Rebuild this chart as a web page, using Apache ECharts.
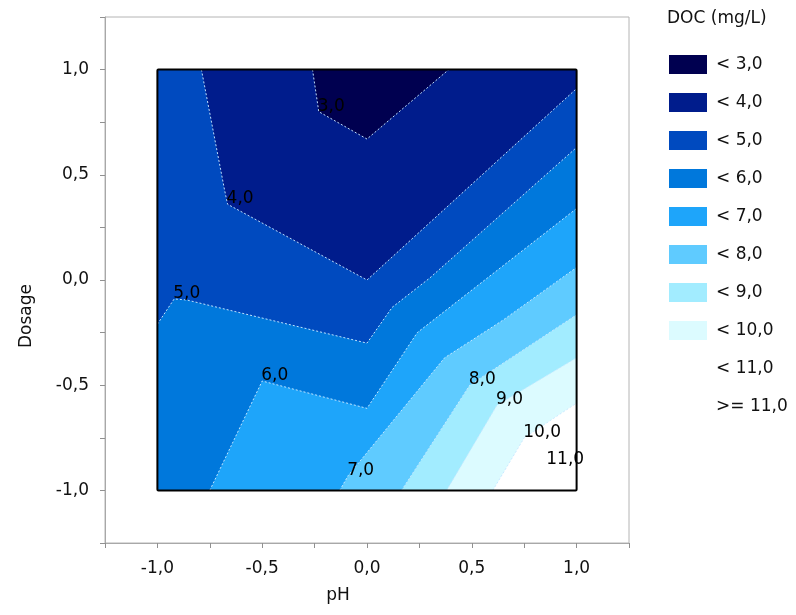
<!DOCTYPE html>
<html>
<head>
<meta charset="utf-8">
<script src="https://cdn.jsdelivr.net/npm/echarts@6/dist/echarts.min.js"></script>
<style>html,body{margin:0;padding:0;background:#fff;}#main{width:796px;height:615px;}</style>
</head>
<body>
<div id="main"></div>
<script>
// ---- data (pH, Dosage) ----
const levelValues = [3, 4, 5, 6, 7, 8, 9, 10, 11];
const legendNames = ['< 3,0', '< 4,0', '< 5,0', '< 6,0', '< 7,0', '< 8,0', '< 9,0', '< 10,0', '< 11,0', '>= 11,0'];
const contourLabels = ['3,0', '4,0', '5,0', '6,0', '7,0', '8,0', '9,0', '10,0', '11,0'];
const contour3 = [[-0.26, 1.0], [-0.23, 0.80], [0.0, 0.67], [0.39, 1.0]];
const contour4 = [[-0.79, 1.0], [-0.68, 0.43], [-0.665, 0.36], [0.0, 0.0], [1.0, 0.91]];
const contour5 = [[-1.0, -0.21], [-0.92, -0.09], [-0.86, -0.095], [0.0, -0.30], [0.12, -0.13], [0.30, 0.01], [1.0, 0.63]];
const contour6 = [[-0.75, -1.0], [-0.50, -0.48], [0.0, -0.61], [0.24, -0.25], [1.0, 0.34]];
const contour7 = [[-0.13, -1.0], [-0.09, -0.93], [0.37, -0.37], [0.65, -0.19], [1.0, 0.06]];
const contour8 = [[0.165, -1.0], [0.49, -0.50], [1.0, -0.165]];
const contour9 = [[0.38, -1.0], [0.62, -0.595], [1.0, -0.37]];
const contour10 = [[0.60, -1.0], [0.75, -0.75], [1.0, -0.585]];
const contour11 = [[0.82, -1.0], [0.86, -0.88], [1.0, -0.76]];
const labelVertex = [1, 2, 1, 1, 1, 1, 1, 1, 1];
const designMin = -1, designMax = 1;

// ---- styles ----
const levelColors = ['#000050', '#001c8c', '#004abf', '#0078dc', '#1ea5fa', '#5fcbff', '#a2ecff', '#dcfbff', '#ffffff', '#ffffff'];
const FONT = 'DejaVu Sans';
const TXT = '#111';

const contours = [contour3, contour4, contour5, contour6, contour7, contour8, contour9, contour10, contour11];

// perimeter parameter (counter-clockwise on screen, starting at bottom-right corner)
function perim(p) {
  const [x, y] = p, a = designMin, b = designMax, s = b - a;
  if (Math.abs(x - b) < 1e-9) return (y - a);
  if (Math.abs(y - b) < 1e-9) return s + (b - x);
  if (Math.abs(x - a) < 1e-9) return 2 * s + (b - y);
  return 3 * s + (x - a);
}
function lowSidePolygon(line) {
  const s = designMax - designMin;
  const corners = [[designMax, designMax], [designMin, designMax], [designMin, designMin], [designMax, designMin]];
  const cornerT = [s, 2 * s, 3 * s, 4 * s];
  const te = perim(line[line.length - 1]);
  let ts = perim(line[0]);
  if (ts < te) ts += 4 * s;
  const pts = line.slice();
  for (let k = 0; k < 8; k++) {
    const t = cornerT[k % 4] + (k >= 4 ? 4 * s : 0);
    if (t > te && t < ts) pts.push(corners[k % 4]);
  }
  return pts;
}
const fullBox = [[designMin, designMin], [designMax, designMin], [designMax, designMax], [designMin, designMax]];

const series = [];
legendNames.forEach((name, i) => {
  const poly = i < contours.length ? lowSidePolygon(contours[i]) : fullBox;
  series.push({
    type: 'custom', name: name, coordinateSystem: 'cartesian2d',
    z: 20 - i, silent: true,
    itemStyle: { color: levelColors[i] },
    data: [[0, 0]],
    renderItem: function (params, api) {
      return { type: 'polygon', shape: { points: poly.map(p => api.coord(p)) },
        style: { fill: levelColors[i] } };
    }
  });
});

// contour lines with labels
series.push({
  type: 'custom', coordinateSystem: 'cartesian2d', z: 40, silent: true,
  data: contours.map((c, i) => [i, levelValues[i]]),
  renderItem: function (params, api) {
    const i = params.dataIndex;
    const pts = contours[i].map(p => api.coord(p));
    const lp = pts[labelVertex[i]];
    const children = [];
    if (i < 8) children.push({ type: 'polyline', shape: { points: pts },
      style: { stroke: 'rgba(200,232,255,0.95)', lineWidth: 1, lineDash: [2, 2], fill: null } });
    children.push({ type: 'text', x: lp[0] - 1, y: lp[1] + 3,
      style: { text: contourLabels[i], fill: '#000', font: '17px "' + FONT + '"', textAlign: 'left', textVerticalAlign: 'bottom' } });
    return { type: 'group', children: children };
  }
});

// design-space frame
series.push({
  type: 'custom', coordinateSystem: 'cartesian2d', z: 50, silent: true,
  data: [[0, 0]],
  renderItem: function (params, api) {
    const p1 = api.coord([designMin, designMax]), p2 = api.coord([designMax, designMin]);
    return { type: 'rect', shape: { x: p1[0], y: p1[1], width: p2[0] - p1[0], height: p2[1] - p1[1], r: 1 },
      style: { stroke: '#000', lineWidth: 2, fill: null } };
  }
});

const fmt = v => (Math.abs(Math.round(v * 2) - v * 2) < 1e-6 && Math.abs(v) <= 1.0001) ? v.toFixed(1).replace('.', ',') : '';

const option = {
  animation: false,
  backgroundColor: '#fff',
  title: { text: 'DOC (mg/L)', left: 667, top: 10, padding: 0,
    textStyle: { fontSize: 17, fontWeight: 'normal', color: TXT, fontFamily: FONT } },
  legend: {
    orient: 'vertical', left: 669, top: 55, padding: 0, itemWidth: 38, itemHeight: 19, itemGap: 19,
    icon: 'rect', selectedMode: false, data: legendNames,
    textStyle: { fontSize: 17, color: TXT, fontFamily: FONT, padding: [0, 0, 0, 4], lineHeight: 19 }
  },
  grid: { left: 105, right: 167, top: 17, bottom: 72, show: true, borderColor: '#b4b4b4', borderWidth: 1, backgroundColor: '#fff' },
  xAxis: {
    type: 'value', min: -1.25, max: 1.25, interval: 0.25,
    name: 'pH', nameLocation: 'middle', nameGap: 44,
    nameTextStyle: { fontSize: 17, color: TXT, fontFamily: FONT, padding: [0, 58, 0, 0] },
    axisLine: { onZero: false, lineStyle: { color: '#a8a8a8' } },
    axisTick: { show: true, length: 5, lineStyle: { color: '#909090' } },
    axisLabel: { formatter: fmt, fontSize: 17, color: TXT, fontFamily: FONT, margin: 17, showMinLabel: true, showMaxLabel: true },
    splitLine: { show: false }
  },
  yAxis: {
    type: 'value', min: -1.25, max: 1.25, interval: 0.25,
    name: 'Dosage', nameLocation: 'middle', nameGap: 70, nameRotate: 90,
    nameTextStyle: { fontSize: 17, color: TXT, fontFamily: FONT, padding: [0, 72, 0, 0] },
    axisLine: { show: true, onZero: false, lineStyle: { color: '#a8a8a8' } },
    axisTick: { show: true, length: 5, lineStyle: { color: '#909090' } },
    axisLabel: { formatter: fmt, fontSize: 17, color: TXT, fontFamily: FONT, margin: 16 },
    splitLine: { show: false }
  },
  series: series
};
const chart = echarts.init(document.getElementById('main'));
chart.setOption(option);
</script>
</body>
</html>
